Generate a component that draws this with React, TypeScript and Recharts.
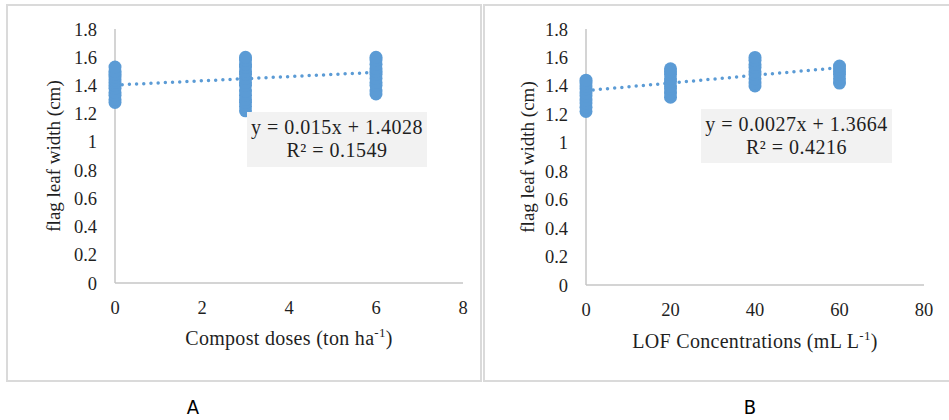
import React from 'react';
import { ScatterChart, Scatter, XAxis, YAxis, ReferenceLine } from 'recharts';

// readings at each treatment level (cm)
const compostDoses = [0, 3, 6];
const compostWidths = [
  [1.28, 1.3, 1.33, 1.35, 1.38, 1.4, 1.42, 1.44, 1.46, 1.48, 1.5, 1.53],
  [1.22, 1.25, 1.28, 1.3, 1.33, 1.36, 1.4, 1.42, 1.45, 1.48, 1.5, 1.53, 1.55, 1.58, 1.6],
  [1.34, 1.36, 1.4, 1.42, 1.45, 1.48, 1.5, 1.52, 1.55, 1.58, 1.6],
];
const lofConcs = [0, 20, 40, 60];
const lofWidths = [
  [1.22, 1.25, 1.28, 1.3, 1.33, 1.35, 1.38, 1.4, 1.42, 1.44],
  [1.32, 1.35, 1.38, 1.4, 1.43, 1.45, 1.48, 1.5, 1.52],
  [1.4, 1.42, 1.45, 1.48, 1.5, 1.53, 1.55, 1.58, 1.6],
  [1.42, 1.45, 1.48, 1.5, 1.52, 1.54],
];

// trendline ends, from the fitted equations
const compostTrend = [
  { x: 0, y: 1.4028 },
  { x: 6, y: 1.4928 },
];
const lofTrend = [
  { x: 0, y: 1.3664 },
  { x: 60, y: 1.5284 },
];

const yTicks = [0, 0.2, 0.4, 0.6, 0.8, 1, 1.2, 1.4, 1.6, 1.8];
const compostTicks = [0, 2, 4, 6, 8];
const lofTicks = [0, 20, 40, 60, 80];

const BLUE = '#5b9bd5';
const AXIS = '#c6c6c6';
const SERIF = "'Liberation Serif', 'Times New Roman', serif";
const TEXT = '#1f1f1f';

const toPoints = (xs: number[], ys: number[][]) =>
  xs.flatMap((x, i) => ys[i].map((y) => ({ x, y })));

const Dot = (p: any) => <circle cx={p.cx} cy={p.cy} r={6.5} fill={BLUE} />;

const tickStyle = { fill: TEXT, fontSize: 18.5, fontFamily: SERIF };

function Panel({
  width,
  xs,
  ys,
  trend,
  xTicks,
  xMax,
  yAxisWidth,
  marginRight,
  marginBottom,
  yTitleX,
  xTitleDy,
  xTitle,
}: any) {
  return (
    <ScatterChart
      width={width}
      height={390}
      margin={{ top: 29, right: marginRight, bottom: marginBottom, left: 0 }}
    >
      <XAxis
        type="number"
        dataKey="x"
        domain={[0, xMax]}
        ticks={xTicks}
        height={60}
        axisLine={{ stroke: AXIS, strokeWidth: 1.5 }}
        tickLine={false}
        tickSize={0}
        tickMargin={18}
        tick={tickStyle}
        label={{
          content: ({ viewBox }: any) => (
            <text
              x={viewBox.x + viewBox.width / 2}
              y={viewBox.y + xTitleDy}
              textAnchor="middle"
              fill={TEXT}
              fontSize={20}
              letterSpacing={0.3}
              fontFamily={SERIF}
            >
              {xTitle}
              <tspan fontSize={13} dy={-8}>-1</tspan>
              <tspan dy={8}>)</tspan>
            </text>
          ),
        }}
      />
      <YAxis
        type="number"
        dataKey="y"
        domain={[0, 1.8]}
        ticks={yTicks}
        width={yAxisWidth}
        axisLine={{ stroke: AXIS, strokeWidth: 1.5 }}
        tickLine={false}
        tickSize={0}
        tickMargin={18}
        tick={tickStyle}
        label={{
          content: ({ viewBox }: any) => {
            const cx = viewBox.x + yTitleX;
            const cy = viewBox.y + viewBox.height / 2;
            return (
              <text
                x={cx}
                y={cy}
                transform={`rotate(-90, ${cx}, ${cy})`}
                textAnchor="middle"
                dominantBaseline="central"
                fill={TEXT}
                fontSize={19}
                fontFamily={SERIF}
              >
                flag leaf width (cm)
              </text>
            );
          },
        }}
      />
      <Scatter data={toPoints(xs, ys)} fill={BLUE} shape={Dot} isAnimationActive={false} />
      <ReferenceLine
        segment={trend}
        stroke={BLUE}
        strokeWidth={3.5}
        strokeDasharray="0 7.2"
        strokeLinecap="round"
        ifOverflow="visible"
      />
    </ScatterChart>
  );
}

const boxStyle: React.CSSProperties = {
  position: 'absolute',
  background: '#f2f2f2',
  fontFamily: SERIF,
  fontSize: 20,
  letterSpacing: 0.5,
  color: TEXT,
  textAlign: 'center',
  lineHeight: '23px',
  paddingTop: 4,
  boxSizing: 'border-box',
  whiteSpace: 'nowrap',
};

const frameStyle: React.CSSProperties = {
  position: 'absolute',
  top: 4,
  height: 378,
  border: '2px solid #dadada',
  boxSizing: 'border-box',
};

const caption: React.CSSProperties = {
  position: 'absolute',
  top: 395,
  width: 40,
  textAlign: 'center',
  fontFamily: "'Liberation Sans Narrow', 'DejaVu Sans Condensed', sans-serif",
  fontSize: 20,
  color: '#000',
};

export default function App() {
  return (
    <div
      style={{
        position: 'fixed',
        left: 0,
        top: 0,
        width: 949,
        height: 420,
        overflow: 'hidden',
        background: '#fff',
      }}
    >
      <div style={{ ...frameStyle, left: 6, width: 476 }} />
      <div style={{ ...frameStyle, left: 483, width: 472 }} />

      <div style={{ position: 'absolute', left: 0, top: 0 }}>
        <Panel
          width={480}
          xs={compostDoses}
          ys={compostWidths}
          trend={compostTrend}
          xTicks={compostTicks}
          xMax={8}
          yAxisWidth={115}
          marginRight={17}
          marginBottom={47}
          yTitleX={53}
          xTitleDy={62}
          xTitle="Compost doses (ton ha"
        />
      </div>
      <div style={{ position: 'absolute', left: 480, top: 0 }}>
        <Panel
          width={469}
          xs={lofConcs}
          ys={lofWidths}
          trend={lofTrend}
          xTicks={lofTicks}
          xMax={80}
          yAxisWidth={106}
          marginRight={25}
          marginBottom={45}
          yTitleX={47}
          xTitleDy={63}
          xTitle="LOF Concentrations (mL L"
        />
      </div>

      <div style={{ ...boxStyle, left: 247, top: 112, width: 180, height: 55 }}>
        y = 0.015x + 1.4028
        <br />
        R² = 0.1549
      </div>
      <div style={{ ...boxStyle, left: 701, top: 109, width: 191, height: 54 }}>
        y = 0.0027x + 1.3664
        <br />
        R² = 0.4216
      </div>

      <div style={{ ...caption, left: 173 }}>A</div>
      <div style={{ ...caption, left: 730 }}>B</div>
    </div>
  );
}
